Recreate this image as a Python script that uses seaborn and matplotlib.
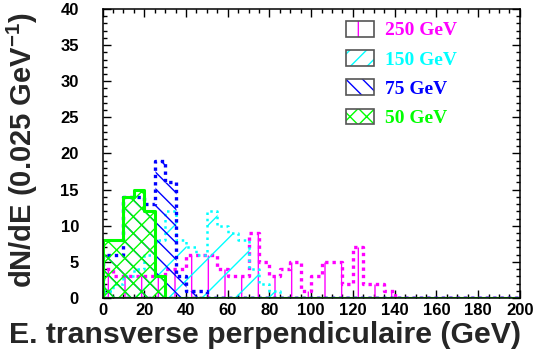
import numpy as np
import matplotlib
matplotlib.use("Agg")
import matplotlib.pyplot as plt
from matplotlib.patches import Patch
import seaborn as sns

# bin edges (GeV), 5 GeV bins from 0 to 200
edges = list(range(0, 205, 5))
centers = [e + 2.5 for e in edges[:-1]]

# counts per bin
n250 = [4, 3, 3, 3, 3, 3, 4, 4, 6, 6, 6, 4, 3, 3, 9, 5, 3, 4, 5, 1,
        3, 5, 5, 2, 7, 2, 2, 1] + [0] * 12
n150 = [1, 2, 3, 4, 6, 8, 12, 8, 7, 6, 12, 10, 9, 8, 4, 2, 1] + [0] * 23
n75 = [6, 6, 14, 14, 13, 19, 16, 3, 1, 1] + [0] * 30
n50 = [8, 8, 14, 15, 12, 3] + [0] * 34

labels = ["250 GeV", "150 GeV", "75 GeV", "50 GeV"]
colors = ["#ff00ff", "#00ffff", "#0000ff", "#00ff00"]
hatches = ["|", "/", "\\\\", "xx"]
leg_hatches = ["|", "//", "\\\\", "xx"]
styles = [(0, (1, 1.2)), (0, (1, 1.5)), (0, (1, 1.2)), "-"]
widths = [2.4, 1.8, 2.4, 2.2]

sns.set_style("ticks")
plt.rcParams["font.family"] = ["Liberation Sans", "DejaVu Sans"]
plt.rcParams["font.weight"] = "bold"
plt.rcParams["mathtext.fontset"] = "custom"
plt.rcParams["mathtext.bf"] = "Liberation Sans:bold"
plt.rcParams["mathtext.rm"] = "Liberation Sans:bold"
plt.rcParams["mathtext.default"] = "bf"
plt.rcParams["hatch.linewidth"] = 1.0

fig = plt.figure(figsize=(5.37, 3.58), dpi=100)
ax = fig.add_axes([0.191, 0.1676, 0.777, 0.8074])

for vals, c, h, ls, lw in zip([n250, n150, n75, n50], colors, hatches, styles, widths):
    sns.histplot(x=centers, weights=vals, bins=edges, element="step", fill=True,
                 color=c, facecolor="none", edgecolor=c, hatch=h,
                 linestyle=ls, linewidth=lw, ax=ax)

ax.set_xlim(0, 200)
ax.set_ylim(0, 40)
ax.set_xticks(np.arange(0, 201, 20))
ax.set_xticks(np.arange(0, 201, 5), minor=True)
ax.set_yticks(np.arange(0, 41, 5))
ax.set_yticks(np.arange(0, 41, 1), minor=True)
ax.tick_params(which="both", direction="in", top=True, right=True, width=1, colors="black")
ax.tick_params(which="major", length=5.8, labelsize=12)
ax.tick_params(which="minor", length=2.9)
ax.tick_params(axis="y", pad=17)
ax.tick_params(axis="x", pad=3.5)
for lab in ax.get_xticklabels() + ax.get_yticklabels():
    lab.set_fontweight("bold")
for sp in ax.spines.values():
    sp.set_linewidth(1.1)
    sp.set_color("black")

ax.set_xlabel("E. transverse perpendiculaire (GeV)", fontsize=21.8, fontweight="bold")
ax.set_ylabel("dN/dE (0.025 GeV$^{-1}$)", fontsize=21, fontweight="bold")
ax.xaxis.set_label_coords(0.389, -0.08)
ax.yaxis.set_label_coords(-0.15, 0.51)

handles = []
for c, h in zip(colors, leg_hatches):
    hp = Patch(facecolor="white", edgecolor=c, hatch=h, linewidth=0)
    fp = Patch(facecolor="none", edgecolor="#555555", linewidth=1.2)
    handles.append((hp, fp))
leg = ax.legend(handles, labels, loc="upper left", bbox_to_anchor=(0.627, 0.969),
                bbox_transform=fig.transFigure, frameon=False, borderpad=0,
                handlelength=1.43, handleheight=0.87, handletextpad=0.55,
                labelspacing=0.55, labelcolor=colors,
                prop={"family": "Liberation Serif", "weight": "bold", "size": 14})

fig.savefig("out.png", dpi=100)
